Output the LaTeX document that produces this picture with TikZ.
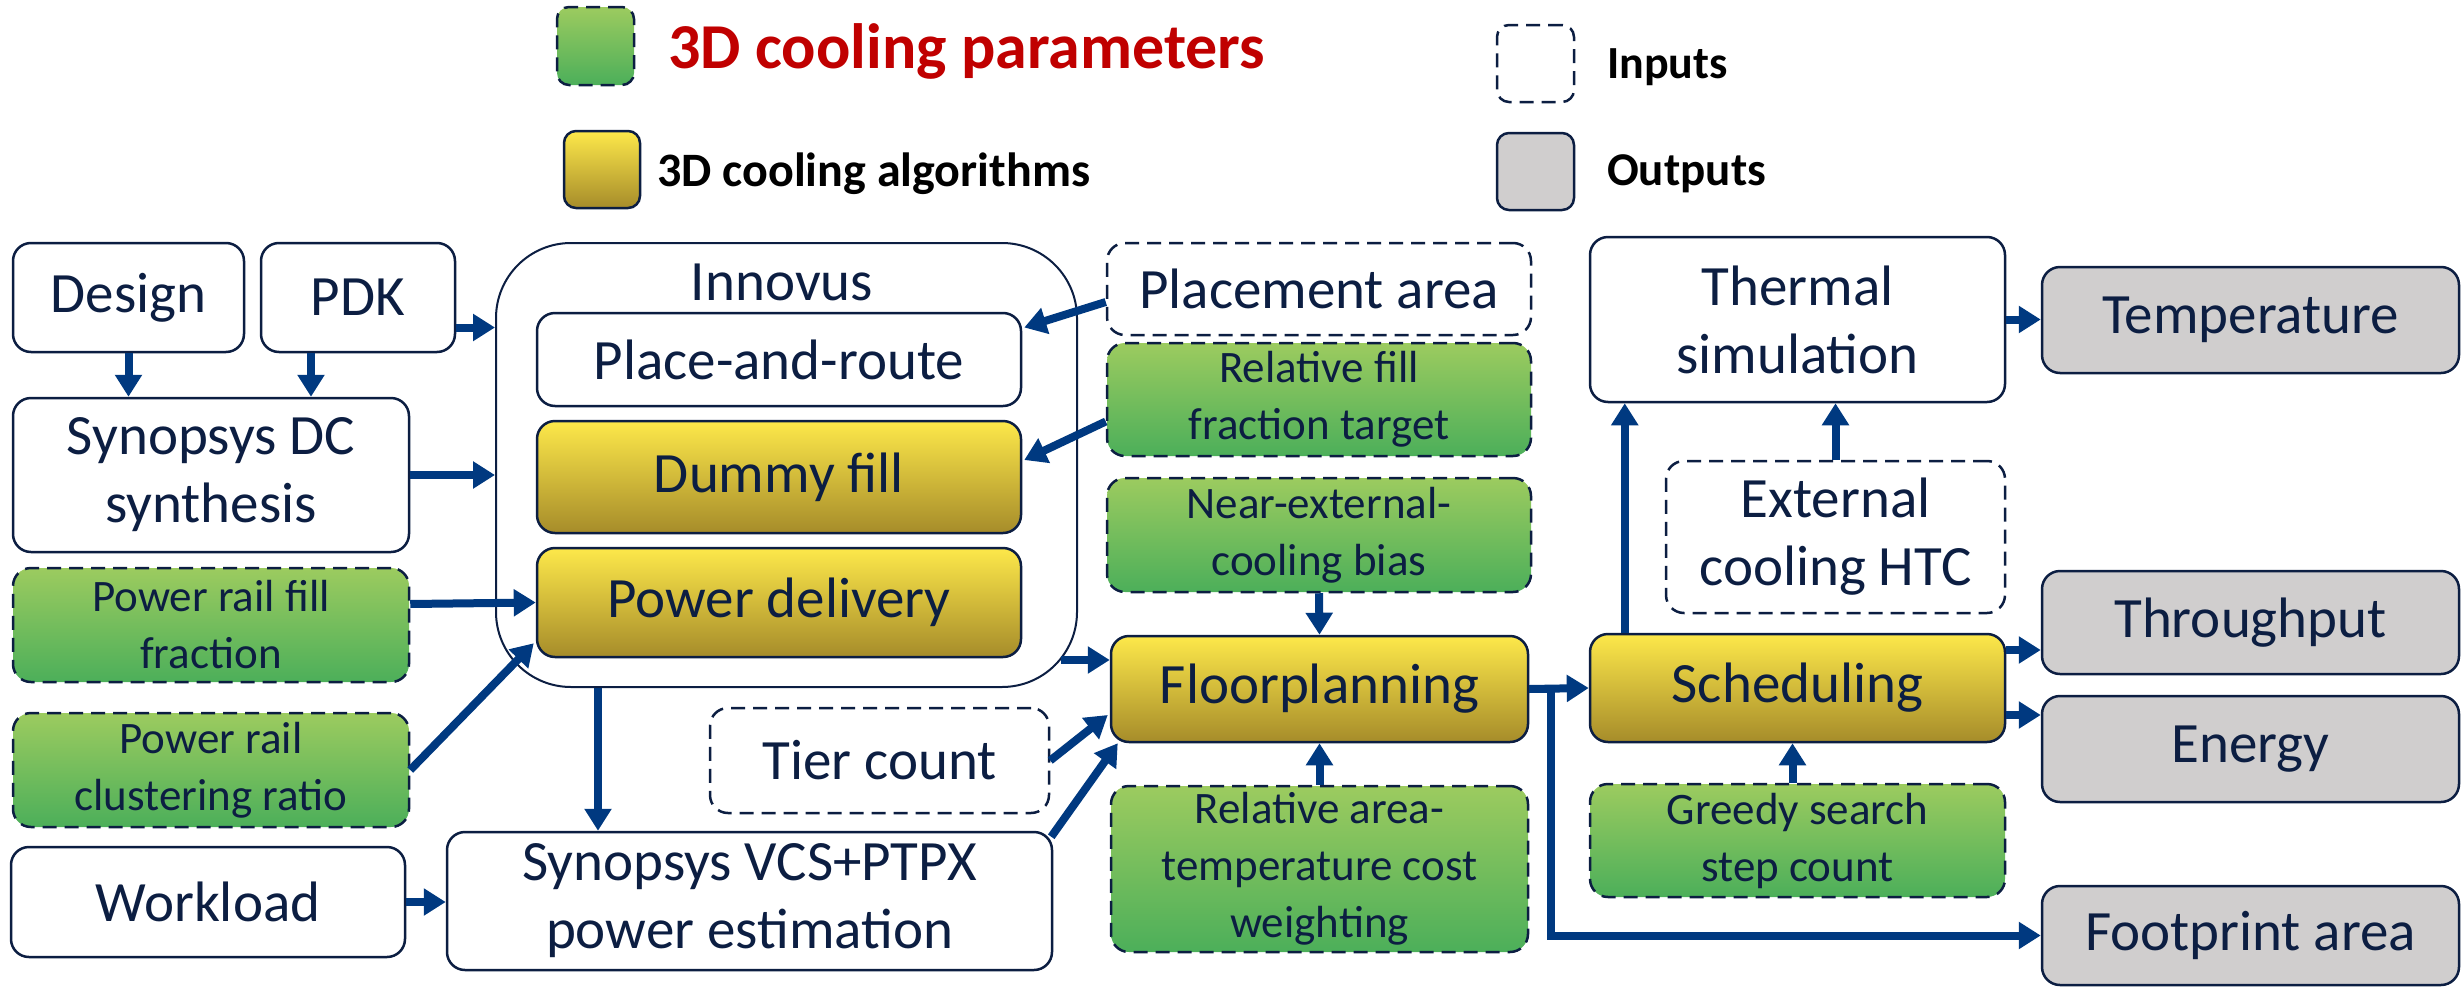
\documentclass[tikz,border=0pt]{standalone}
\usepackage{fontspec}
\setmainfont{Carlito}
\usetikzlibrary{arrows.meta,calc}
\definecolor{navy}{RGB}{12,30,66}
\definecolor{arrowblue}{RGB}{0,57,128}
\definecolor{gtop}{RGB}{156,203,95}
\definecolor{gbot}{RGB}{76,175,90}
\definecolor{ytop}{RGB}{253,232,74}
\definecolor{ybot}{RGB}{166,140,42}
\definecolor{outgray}{RGB}{208,206,206}
\definecolor{legred}{RGB}{192,0,0}
\tikzset{
 box/.style={draw=navy, line width=2.5pt, rounded corners=18pt, inner sep=0pt, align=center, text=navy, font=\fontsize{57}{68}\selectfont},
 plain/.style={box, fill=white},
 inbox/.style={box, fill=white, dash pattern=on 14pt off 8pt},
 param/.style={box, top color=gtop, bottom color=gbot, dash pattern=on 14pt off 8pt, font=\fontsize{45}{57}\selectfont},
 algo/.style={box, top color=ytop, bottom color=ybot},
 outbox/.style={box, fill=outgray},
 legtext/.style={anchor=base west, inner sep=0pt, font=\bfseries\fontsize{48}{56}\selectfont},
 arr/.style={draw=arrowblue, line width=8pt, -{Triangle[length=22pt,width=26pt]}},
}
\begin{document}
\begin{tikzpicture}[x=1pt,y=-1pt]
\useasboundingbox (0,0) rectangle (2463,988);
% legend
\node[param, minimum width=77pt, minimum height=78pt, rounded corners=12pt] (lg1) at (595.5,46) {};
\node[legtext, text=legred, font=\bfseries\fontsize{64}{72}\selectfont] (lt1) at (668,68) {3D cooling parameters};
\node[algo, minimum width=76pt, minimum height=77pt, rounded corners=12pt] (lg2) at (602,169.5) {};
\node[legtext] (lt2) at (657,186) {3D cooling algorithms};
\node[inbox, minimum width=77pt, minimum height=77pt, rounded corners=12pt] (lg3) at (1535.5,63.5) {};
\node[legtext, font=\bfseries\fontsize{46}{54}\selectfont] (lt3) at (1607,78) {Inputs};
\node[outbox, minimum width=77pt, minimum height=77pt, rounded corners=12pt] (lg4) at (1535.5,171.5) {};
\node[legtext, font=\bfseries\fontsize{47}{54}\selectfont] (lt4) at (1607,185) {Outputs};
% left column
\node[plain, minimum width=231pt, minimum height=109pt] (design) at (128.5,297.5) {Design};
\node[plain, minimum width=194pt, minimum height=109pt] (pdk) at (358,297.5) {PDK};
\node[plain, minimum width=396pt, minimum height=154pt] (dc) at (211,475) {Synopsys DC\\synthesis};
\node[param, minimum width=396pt, minimum height=114pt] (prff) at (211,625) {Power rail fill\\fraction};
\node[param, minimum width=396pt, minimum height=114pt] (prcr) at (211,770) {Power rail\\clustering ratio};
\node[plain, minimum width=394pt, minimum height=110pt] (wl) at (208,902) {Workload};
% Innovus
\node[box, fill=white, line width=2pt, rounded corners=75pt, minimum width=581pt, minimum height=444pt] (innovus) at (786.5,465) {};
\node[anchor=base, inner sep=0pt, text=navy, font=\fontsize{57}{68}\selectfont] (innlabel) at (782,300) {Innovus};
\node[plain, minimum width=484pt, minimum height=93pt] (pr) at (779,359.5) {Place-and-route};
\node[algo, minimum width=484pt, minimum height=112pt] (df) at (779,477) {Dummy fill};
\node[algo, minimum width=484pt, minimum height=109pt] (pd) at (779,602.5) {Power delivery};
\node[plain, minimum width=605pt, minimum height=138pt] (vcs) at (749.5,901) {Synopsys VCS+PTPX\\power estimation};
\node[inbox, minimum width=339pt, minimum height=105pt] (tier) at (879.5,760.5) {Tier count};
% middle column
\node[inbox, minimum width=424pt, minimum height=92pt] (pa) at (1319,289) {Placement area};
\node[param, minimum width=424pt, minimum height=113pt] (rfft) at (1319,399.5) {Relative fill\\fraction target};
\node[param, minimum width=424pt, minimum height=114pt] (necb) at (1319,535) {Near-external-\\cooling bias};
\node[algo, minimum width=417pt, minimum height=106pt] (fp) at (1319.5,689) {Floorplanning};
\node[param, minimum width=417pt, minimum height=166pt] (ratcw) at (1319.5,869) {Relative area-\\temperature cost\\weighting};
% right columns
\node[plain, minimum width=415pt, minimum height=165pt] (ts) at (1797.5,319.5) {Thermal\\simulation};
\node[inbox, minimum width=339pt, minimum height=152pt] (ech) at (1835.5,537) {External\\cooling HTC};
\node[algo, minimum width=415pt, minimum height=108pt] (sch) at (1797.5,688) {Scheduling};
\node[param, minimum width=415pt, minimum height=113pt] (gssc) at (1797.5,840.5) {Greedy search\\step count};
\node[outbox, minimum width=417pt, minimum height=106pt] (temp) at (2250.5,320) {Temperature};
\node[outbox, minimum width=417pt, minimum height=103pt] (thr) at (2250.5,622.5) {Throughput};
\node[outbox, minimum width=417pt, minimum height=106pt] (en) at (2250.5,749) {Energy};
\node[outbox, minimum width=417pt, minimum height=99pt] (fa) at (2250.5,935.5) {Footprint area};
% connectors
\draw[arr] (design.south) -- (design.south |- dc.north);
\coordinate (p1) at ($(pdk.south)+(-47,0)$);
\draw[arr] (p1) -- (p1 |- dc.north);
\coordinate (p2) at ($(pdk.east)+(0,30)$);
\draw[arr] (p2) -- (p2 -| innovus.west);
\draw[arr] (dc.east) -- (dc.east -| innovus.west);
\draw[arr] ($(prff.east)+(0,-21)$) -- (pd.west);
\draw[arr] (prcr.east) -- ($(pd.south west)+(-2,-15)$);
\draw[arr] ($(pa.west)+(0,13)$) -- ($(pr.east)+(2,-32)$);
\draw[arr] ($(rfft.west)+(0,22)$) -- ($(df.east)+(2,-17)$);
\draw[arr] (necb.south) -- (fp.north);
\draw[arr] ($(innovus.east |- fp.west)+(-17,-29)$) -- ($(fp.west)+(0,-29)$);
\coordinate (p3) at ($(innovus.south)+(-188.5,0)$);
\draw[arr] (p3) -- (p3 |- vcs.north);
\draw[arr] (tier.east) -- ($(fp.west)+(-2,26)$);
\draw[arr] ($(vcs.north east)+(-2,6)$) -- ($(fp.south west)+(8,0)$);
\draw[arr] (ratcw.north) -- (fp.south);
\draw[arr] (fp.east) -- (sch.west);
\draw[arr] (fp.east) -- ++(22,0) |- (fa.west);
\coordinate (p4) at ($(sch.north west)+(36,0)$);
\draw[arr] (p4) -- (p4 |- ts.south);
\draw[arr] (ech.north) -- (ech.north |- ts.south);
\draw[arr] (ts.east) -- (ts.east -| temp.west);
\coordinate (p5) at ($(sch.east)+(0,-38)$);
\draw[arr] (p5) -- (p5 -| thr.west);
\coordinate (p6) at ($(sch.east)+(0,27)$);
\draw[arr] (p6) -- (p6 -| en.west);
\coordinate (p7) at ($(gssc.north)+(-5,0)$);
\draw[arr] (p7) -- (p7 |- sch.south);
\draw[arr] (wl.east) -- (wl.east -| vcs.west);
\end{tikzpicture}
\end{document}
